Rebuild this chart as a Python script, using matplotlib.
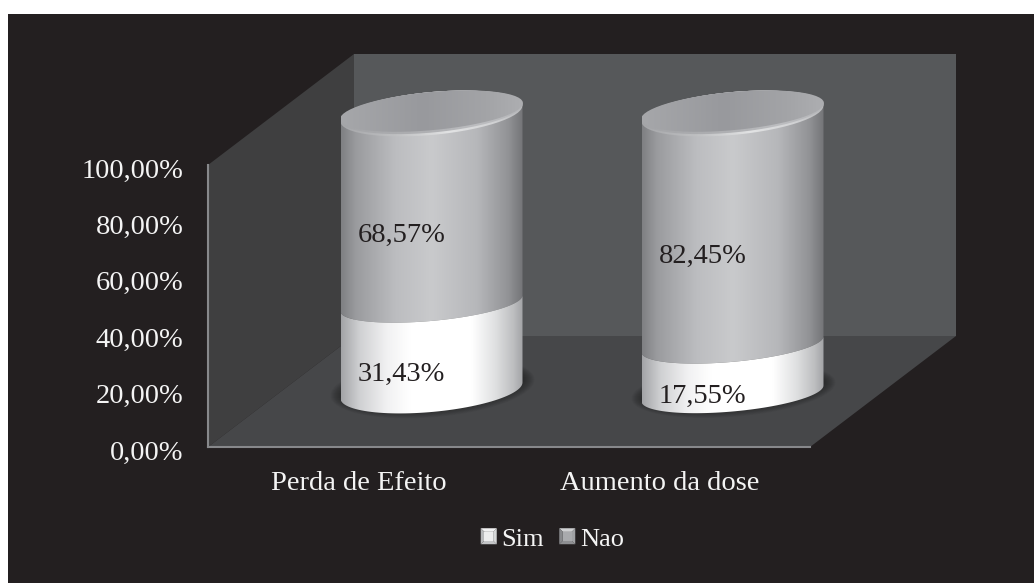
import numpy as np
import matplotlib
matplotlib.use("Agg")
import matplotlib.pyplot as plt
from matplotlib.colors import LinearSegmentedColormap
from matplotlib.legend_handler import HandlerBase
from matplotlib.patches import Polygon, PathPatch, Rectangle, Patch
from matplotlib.path import Path
from matplotlib.transforms import ScaledTranslation

categories = ["Perda de Efeito", "Aumento da dose"]
sim_values = [31.43, 17.55]
nao_values = [68.57, 82.45]
sim_labels = ["31,43%", "17,55%"]
nao_labels = ["68,57%", "82,45%"]
y_ticks = [0, 20, 40, 60, 80, 100]
y_tick_labels = ["0,00%", "20,00%", "40,00%", "60,00%", "80,00%", "100,00%"]

W, H = 1034, 583
plt.rcParams["font.family"] = ["Liberation Serif", "DejaVu Serif"]
fig = plt.figure(figsize=(W / 100, H / 100), dpi=100, facecolor="white")
fig.add_artist(Rectangle((8 / W, 0), 1 - 8 / W, 1 - 14 / H,
                         transform=fig.transFigure, fc="#231f20", ec="none", zorder=-10))

AX_L, AX_R, AX_T, AX_B = 208, 810, 165, 447
ax = fig.add_axes([AX_L / W, 1 - AX_B / H, (AX_R - AX_L) / W, (AX_B - AX_T) / H])
ax.set_facecolor("none")
ax.set_xlim(-0.5, 1.5)
ax.set_ylim(0, 100)
PX = 2.0 / (AX_R - AX_L)     # data x per pixel
PY = 100.0 / (AX_B - AX_T)   # data y per pixel

DX, DY = 146 * PX, 111 * PY  # depth of the 3D box
x0, x1 = -0.5, 1.5
for pts, col in [
    ([(x0, 0), (x0 + DX, DY), (x0 + DX, 100 + DY), (x0, 100)], "#3f3f40"),
    ([(x0, 0), (x1, 0), (x1 + DX, DY), (x0 + DX, DY)], "#464749"),
    ([(x0 + DX, DY), (x1 + DX, DY), (x1 + DX, 100 + DY), (x0 + DX, 100 + DY)], "#56585a"),
]:
    ax.add_patch(Polygon(pts, closed=True, fc=col, ec="none", clip_on=False, zorder=1))

A = 91 * PX
B = 21.5 * PY
S = 8 * PY
OFF_X = DX / 2
BASE_OFF = [(AX_B - 390.5) * PY, (AX_B - 393.5) * PY]   # floor position of each cylinder
HEIGHT_SCALE = [277 / 282, 280 / 282]
BASE_B = [21.5 * PY, 18.0 * PY]
MID_B = 17.5 * PY

white_cm = LinearSegmentedColormap.from_list("w", [
    (0, "#a3a4a7"), (.1, "#cfd0d2"), (.25, "#f1f1f2"), (.38, "#ffffff"),
    (.72, "#ffffff"), (.85, "#dfe0e1"), (.95, "#bdbec0"), (1, "#a3a4a7")])
gray_cm = LinearSegmentedColormap.from_list("g", [
    (0, "#7f8083"), (.08, "#9a9b9e"), (.3, "#bcbdc0"), (.5, "#c9cacc"),
    (.75, "#b6b7ba"), (.92, "#929396"), (1, "#747578")])
top_cm = LinearSegmentedColormap.from_list("t", [
    (0, "#a6a7aa"), (.45, "#98999d"), (.8, "#a3a4a7"), (1, "#adaeb1")])
mid_cm = LinearSegmentedColormap.from_list("m", [
    (0, "#a3a4a7"), (.5, "#b0b1b4"), (.75, "#bcbdc0"), (1, "#b6b7ba")])
rim_cm = LinearSegmentedColormap.from_list("r", [
    (0, "#a5a6a9"), (.3, "#bfc0c2"), (.6, "#e2e3e4"), (.85, "#d0d1d3"), (1, "#b8b9bb")])
grad = np.linspace(0, 1, 256).reshape(1, -1)


def arc(cx, cy, t0, t1, a=A, b=B, s=S, n=60):
    t = np.radians(np.linspace(t0, t1, n))
    return np.c_[cx + a * np.cos(t), cy + b * np.sin(t) + s * np.cos(t)]


def gradient_patch(verts, cmap, xl, xr, yb, yt, z):
    patch = PathPatch(Path(np.vstack([verts, verts[:1]])),
                      fc="none", ec="none", clip_on=False, zorder=z)
    ax.add_patch(patch)
    im = ax.imshow(grad, cmap=cmap, extent=[xl, xr, yb, yt], aspect="auto",
                   origin="lower", zorder=z, interpolation="bilinear")
    im.set_clip_box(fig.bbox)
    im.set_clip_path(patch)
    return im


for i, (sim, nao) in enumerate(zip(sim_values, nao_values)):
    cx = i + OFF_X
    cy = BASE_OFF[i]
    hs = HEIGHT_SCALE[i]
    for grow in np.linspace(11, 0, 12):
        e = arc(cx + 1 * PX, cy + 3 * PY, 0, 360, a=A + grow * PX, b=BASE_B[i] + grow * 0.75 * PY)
        ax.add_patch(Polygon(e, closed=True, fc="#1f1f20", ec="none", alpha=0.07,
                             clip_on=False, zorder=2))
    y_sim = cy + sim * hs
    y_top = cy + (sim + nao) * hs
    left, right = cx - A, cx + A
    low = cy - 40
    high = y_top + 40
    # gray upper segment
    body = np.vstack([arc(cx, y_sim, 180, 360, b=MID_B), arc(cx, y_top, 0, 180)])
    gradient_patch(body, gray_cm, left, right, low, high, 3)
    # white lower segment
    body = np.vstack([arc(cx, cy, 180, 360, b=BASE_B[i]), arc(cx, y_sim, 360, 180, b=MID_B)])
    gradient_patch(body, white_cm, left, right, low, high, 4)
    # top cap: rim visible along the front edge only
    gradient_patch(arc(cx, y_top, 0, 360), rim_cm, left, right, low, high, 5)
    gradient_patch(arc(cx, y_top + 1.2 * PY, 0, 360, b=B - 1.2 * PY), mid_cm,
                   left, right, low, high, 5.3)
    gradient_patch(arc(cx, y_top + 2.4 * PY, 0, 360, a=A + 0.5 * PX, b=B - 2.4 * PY), top_cm,
                   left, right, low, high, 5.6)
    # data labels
    for val, base, lab in [(sim, 0, sim_labels[i]), (nao, sim, nao_labels[i])]:
        ax.annotate(lab, xy=(cx, cy + (base + val / 2) * hs), xytext=(-30 * 0.72, -27 * 0.72),
                    textcoords="offset points", ha="center", va="center",
                    fontsize=20.5, color="#231f20", zorder=8, annotation_clip=False)

ax.set_xlim(-0.5, 1.5)
ax.set_ylim(0, 100)
ax.set_yticks(y_ticks, y_tick_labels)
ax.set_xticks(range(len(categories)), categories)
ax.tick_params(axis="y", length=0, pad=17.5, labelsize=20.5, labelcolor="#f4f4f4")
ax.tick_params(axis="x", length=0, pad=17, labelsize=20.5, labelcolor="#f4f4f4")
shift = ScaledTranslation(0, -3 / 100, fig.dpi_scale_trans)
for lab in ax.get_yticklabels():
    lab.set_transform(lab.get_transform() + shift)
for side in ["top", "right"]:
    ax.spines[side].set_visible(False)
for side in ["left", "bottom"]:
    ax.spines[side].set_color("#87888b")
    ax.spines[side].set_linewidth(1.5)
    ax.spines[side].set_zorder(7)


class BevelHandler(HandlerBase):
    def create_artists(self, legend, orig, xd, yd, w, h, fs, trans):
        colors = orig.bevel
        s = 16 * 0.72
        x, y = (w - s) / 2, (h - s) / 2 - 0.5
        i = 2.6
        c = [(x, y), (x + s, y), (x + s, y + s), (x, y + s)]
        n = [(x + i, y + i), (x + s - i, y + i), (x + s - i, y + s - i), (x + i, y + s - i)]
        arts = []
        for k in range(4):
            arts.append(Polygon([c[k], c[(k + 1) % 4], n[(k + 1) % 4], n[k]], closed=True,
                                fc=colors[k], ec="none", transform=trans))
        arts.append(Polygon(n, closed=True, fc=colors[4], ec="none", transform=trans))
        return arts


h_sim = Patch(label="Sim")
h_sim.bevel = ["#c4c5c7", "#d6d7d8", "#f2f2f3", "#b7b8ba", "#ededee"]
h_nao = Patch(label="Nao")
h_nao.bevel = ["#8e8f92", "#a0a1a4", "#d0d1d3", "#88898c", "#a9aaad"]
fig.legend(handles=[h_sim, h_nao], handler_map={Patch: BevelHandler()},
           loc="center", bbox_to_anchor=(552.5 / W, 1 - 538.5 / H), ncol=2, frameon=False,
           fontsize=19, labelcolor="#f4f4f4", handlelength=0.6, handleheight=0.8,
           handletextpad=0.19, columnspacing=0.57, borderpad=0)

fig.savefig("out.png", dpi=100, facecolor="white")
